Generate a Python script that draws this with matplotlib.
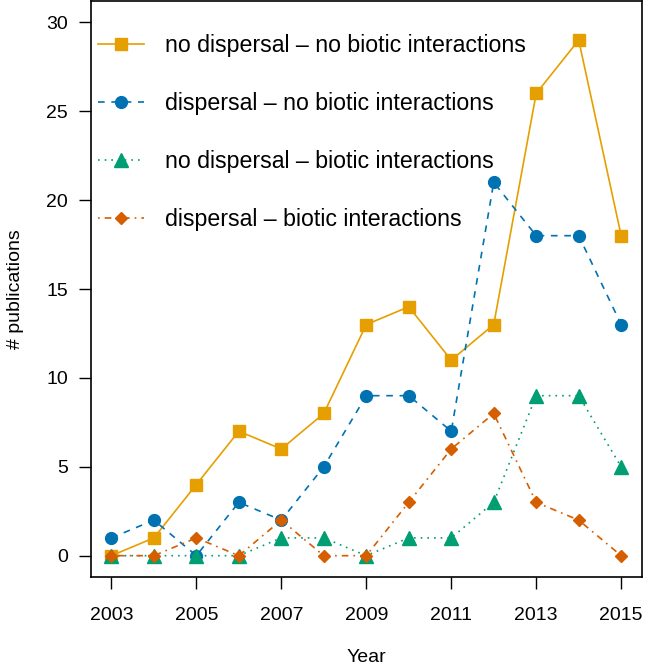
import matplotlib.pyplot as plt
import numpy as np

plt.rcParams['font.family'] = ['Liberation Sans', 'DejaVu Sans']

years = np.arange(2003, 2016)
no_disp_no_bio = [0, 1, 4, 7, 6, 8, 13, 14, 11, 13, 26, 29, 18]
disp_no_bio = [1, 2, 0, 3, 2, 5, 9, 9, 7, 21, 18, 18, 13]
no_disp_bio = [0, 0, 0, 0, 1, 1, 0, 1, 1, 3, 9, 9, 5]
disp_bio = [0, 0, 1, 0, 2, 0, 0, 3, 6, 8, 3, 2, 0]

labels = ["no dispersal \u2013 no biotic interactions",
          "dispersal \u2013 no biotic interactions",
          "no dispersal \u2013 biotic interactions",
          "dispersal \u2013 biotic interactions"]
colors = ["#E69F00", "#0072B2", "#009E73", "#D55E00"]
markers = ["s", "o", "^", "D"]
styles = ["-", (0, (4, 4)), (0, (1, 3)), (0, (1, 3, 4, 3))]
sizes = [8, 8.5, 9.5, 6.5]

fig = plt.figure(figsize=(6.69, 6.69), dpi=100)
ax = fig.add_axes([0.136, 0.1375, 0.823, 0.861])

series = [no_disp_no_bio, disp_no_bio, no_disp_bio, disp_bio]
for i in range(4):
    ax.plot(years, series[i], color=colors[i], linestyle=styles[i], lw=1.2,
            marker=markers[i], markersize=sizes[i], label=labels[i])

ax.set_xlim(2003 - 0.48, 2015 + 0.48)
ax.set_ylim(-1.2, 31.2)
ax.set_xticks([2003, 2005, 2007, 2009, 2011, 2013, 2015])
ax.set_yticks([0, 5, 10, 15, 20, 25, 30])
ax.tick_params(labelsize=14, length=8.5, width=1.0, pad=8)
ax.tick_params(axis='x', pad=13)
for s in ax.spines.values():
    s.set_linewidth(1.2)
ax.set_xlabel("Year", fontsize=14, labelpad=18)
ax.set_ylabel("# publications", fontsize=14, labelpad=16)

ax.legend(loc="upper left", frameon=False, fontsize=16.7, handlelength=2.0,
          labelspacing=1.51, borderaxespad=0, borderpad=0.4, handletextpad=0.9,
          bbox_to_anchor=(-0.005, 0.959))

fig.savefig("out.png", dpi=100)
